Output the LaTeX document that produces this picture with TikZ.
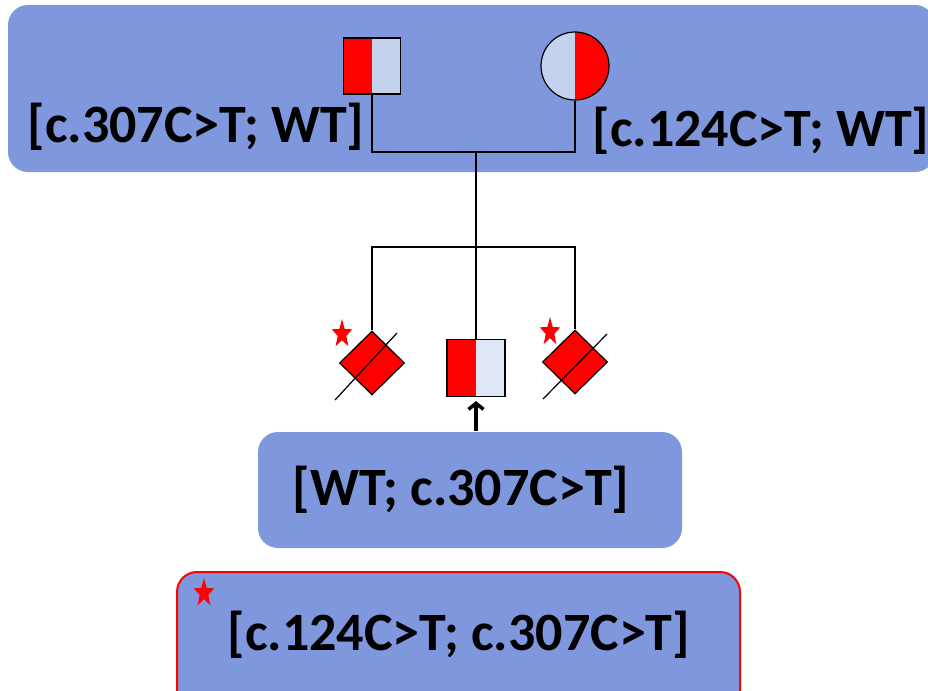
\documentclass[tikz,border=0pt]{standalone}
\usepackage{fontspec}
\setmainfont{Carlito}
\usetikzlibrary{shapes.geometric, arrows.meta}
\definecolor{boxblue}{RGB}{127,151,220}
\definecolor{halfblue}{RGB}{196,210,238}
\definecolor{paleblue}{RGB}{222,229,245}

\begin{document}
\begin{tikzpicture}[x=1pt, y=-1pt, line width=1.2pt,
	gbox/.style={fill=boxblue, rounded corners=20pt},
	gtext/.style={font=\fontsize{54}{62}\selectfont\bfseries, inner sep=0pt},
	halves/.style 2 args={path picture={
		\fill[#1] (path picture bounding box.south west) rectangle (path picture bounding box.north);
		\fill[#2] (path picture bounding box.south) rectangle (path picture bounding box.north east);}},
	sibd/.style={shape=diamond, draw=black, fill=red, minimum width=65pt, minimum height=64pt, inner sep=0pt},
	redstar/.style={shape=star, star points=5, star point ratio=2.4, fill=red, minimum size=30pt, inner sep=0pt, xscale=0.72, transform shape}]

	\useasboundingbox (0,0) rectangle (928,690);

	% background boxes
	\fill[gbox] (8,5) rectangle (935,172);
	\fill[gbox] (258,432) rectangle (682,548);
	\filldraw[gbox, draw=red, line width=2pt] (177,572) rectangle (740,710);

	% parents
	\node[shape=rectangle, draw=black, minimum width=57pt, minimum height=56pt, inner sep=0pt, halves={red}{halfblue}] (father) at (372, 66) {};
	\node[shape=circle, draw=black, minimum size=68pt, inner sep=0pt, halves={halfblue}{red}] (mother) at (575, 66) {};

	\node[gtext] (fgeno) at (196, 127) {[c.307C>T; WT]};
	\node[gtext, anchor=east] (mgeno) at (930, 131) {[c.124C>T; WT]};

	\coordinate (mate) at (476, 152);
	\coordinate (sib) at (476, 247);

	% children
	\node[sibd] (dL) at (372, 363) {};
	\node[sibd] (dR) at (575, 362) {};
	\node[shape=rectangle, draw=black, minimum width=58pt, minimum height=57pt, inner sep=0pt, halves={red}{paleblue}] (proband) at (476, 368) {};

	\node[redstar] (starL) at (342, 334) {};
	\node[redstar] (starR) at (550, 332) {};
	\node[redstar] (starB) at (204, 593) {};

	\draw (dL) ++(-37,37) -- ++(62,-67);
	\draw (dR) ++(-32,37) -- ++(64,-65);

	\node[gtext] (pgeno) at (461, 490) {[WT; c.307C>T]};
	\node[gtext] (sgeno) at (459, 635) {[c.124C>T; c.307C>T]};

	\coordinate (arrowtail) at (476, 431);

	% lines of descent
	\draw (father.south) |- (mate) -| (mother.south);
	\draw (mate) -- (sib);
	\draw (sib) -| (dL.north);
	\draw (sib) -| (dR.north);
	\draw (sib) -- (proband.north);

	\draw[-{Straight Barb[length=6pt, width=15pt]}, line width=3.5pt, shorten >=4pt] (arrowtail) -- (proband.south);

\end{tikzpicture}
\end{document}
